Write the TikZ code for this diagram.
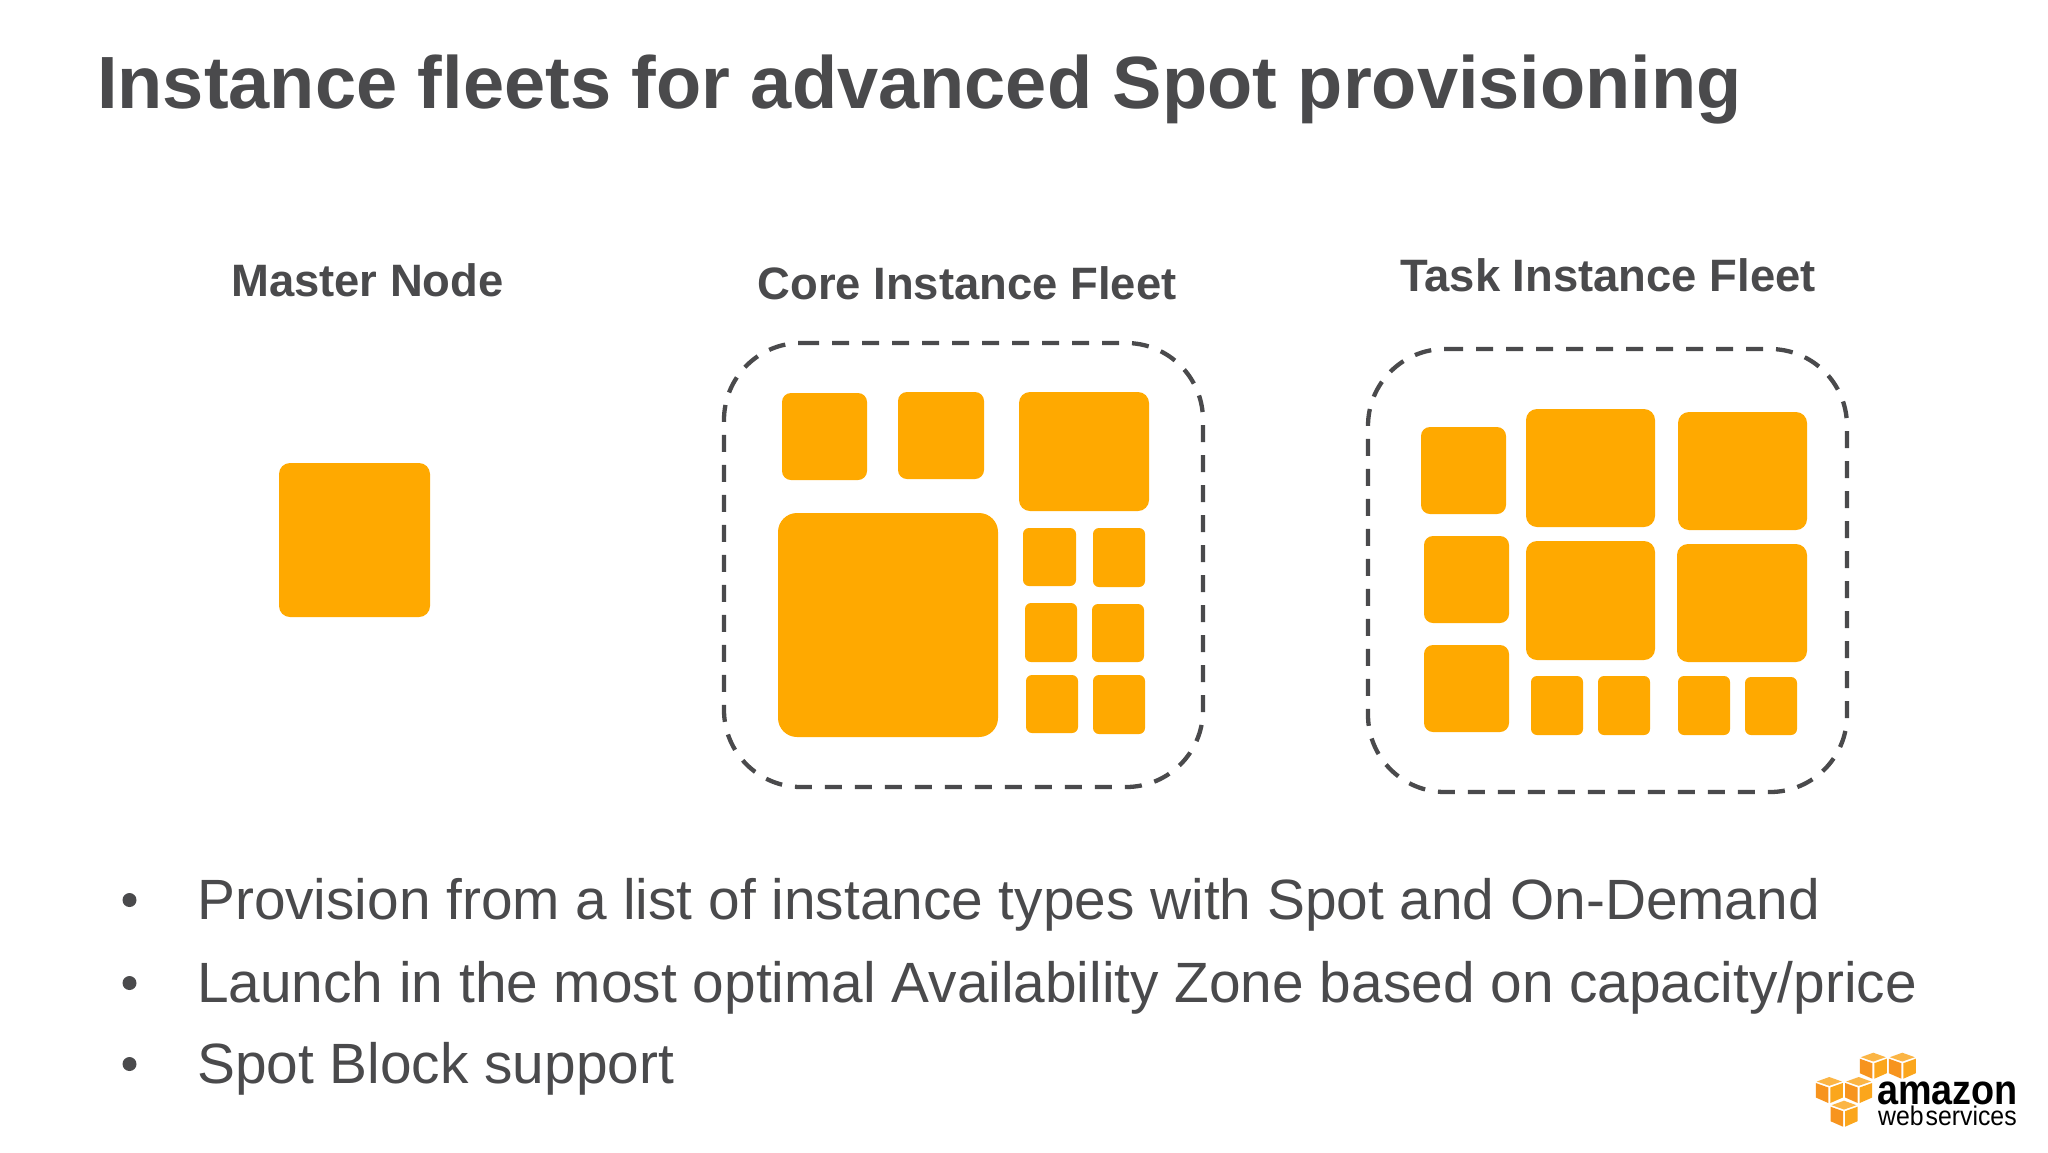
\documentclass[tikz,border=0pt]{standalone}
\usepackage{fontspec}
\setmainfont{Liberation Sans}
\definecolor{slate}{HTML}{4A4A4C}
\definecolor{orangebox}{HTML}{FFA900}
\definecolor{cubetop}{HTML}{FBB545}
\definecolor{cubeleft}{HTML}{F7941E}
\definecolor{cuberight}{HTML}{FBA61C}
\newcommand{\fsz}[1]{\fontsize{#1}{#1}\selectfont}
\newcommand{\blk}[5][9]{\fill[orangebox,rounded corners=#1] (#2,#3) rectangle (#4,#5);}
\newcommand{\cube}[2]{\begin{scope}[shift={(#1,#2)}]
\fill[cubetop] (0,0) -- (12.5,4.5) -- (0,8.8) -- (-12.5,4.5) -- cycle;
\fill[cubeleft] (-13.5,6) -- (-1,10.5) -- (-1,26) -- (-13.5,20.5) -- cycle;
\fill[cuberight] (13.5,6) -- (1,10.5) -- (1,26) -- (13.5,20.5) -- cycle;
\end{scope}}
\tikzset{
  head/.style={anchor=base,text=slate,font=\fsz{45.4}\bfseries,inner sep=0pt},
  bodytext/.style={anchor=base west,text=slate,font=\fsz{56.8},inner sep=0pt},
  fleet/.style={draw=slate,line width=4.3pt,dash pattern=on 17pt off 13pt,rounded corners=77pt}
}
\begin{document}
\begin{tikzpicture}[x=1pt,y=-1pt]
\useasboundingbox (0,0) rectangle (2048,1152);
\fill[white] (0,0) rectangle (2048,1152);
\node[anchor=base west,text=slate,font=\fsz{74}\bfseries,inner sep=0pt] (title) at (97,108) {Instance fleets for advanced Spot provisioning};
\node[head] (master) at (367.5,296) {Master Node};
\node[head] (core) at (967,299) {Core Instance Fleet};
\node[head] (task) at (1608,291) {Task Instance Fleet};
% master
\blk[11]{279}{463}{430}{617}
% core fleet
\draw[fleet] (802,343) -- (1203,343) -- (1203,787) -- (724,787) -- (724,343) -- (803,343);
\blk{782}{393}{867}{480}
\blk{898}{392}{984}{479}
\blk[11]{1019}{392}{1149}{511}
\blk[19]{778}{513}{998}{737}
\blk[6]{1023}{528}{1076}{586}
\blk[6]{1093}{528}{1145}{587}
\blk[6]{1025}{603}{1077}{662}
\blk[6]{1092}{604}{1144}{662}
\blk[6]{1026}{675}{1078}{733}
\blk[6]{1093}{675}{1145}{734}
% task fleet
\draw[fleet] (1446,349) -- (1847,349) -- (1847,792) -- (1368,792) -- (1368,349) -- (1447,349);
\blk{1421}{427}{1506}{514}
\blk{1424}{536}{1509}{623}
\blk{1424}{645}{1509}{732}
\blk[11]{1526}{409}{1655}{527}
\blk[11]{1678}{412}{1807}{530}
\blk[11]{1526}{541}{1655}{660}
\blk[11]{1677}{544}{1807}{662}
\blk[6]{1531}{676}{1583}{735}
\blk[6]{1598}{676}{1650}{735}
\blk[6]{1678}{676}{1730}{735}
\blk[6]{1745}{677}{1797}{735}
% bullets
\node[bodytext] (b1) at (197,919) {Provision from a list of instance types with Spot and On-Demand};
\node[bodytext] (b2) at (197,1002) {Launch in the most optimal Availability Zone based on capacity/price};
\node[bodytext] (b3) at (197,1083) {Spot Block support};
\fill[slate] (129.5,900) circle (7);
\fill[slate] (129.5,983) circle (7);
\fill[slate] (129.5,1064) circle (7);
% logo
\cube{1873.3}{1052.7}
\cube{1902.3}{1052.7}
\cube{1829.3}{1077}
\cube{1858.7}{1077}
\cube{1844}{1100.7}
\node[anchor=base west,text=black,font=\fsz{42}\bfseries,inner sep=0pt,text depth=0pt,transform shape,xscale=.9] (amz) at (1877,1104) {amazon};
\node[anchor=base west,text=black,font=\fsz{27},inner sep=0pt,text height=14pt,transform shape,xscale=.92] (aws) at (1878,1125) {web\hspace{2pt}services};
\end{tikzpicture}
\end{document}
